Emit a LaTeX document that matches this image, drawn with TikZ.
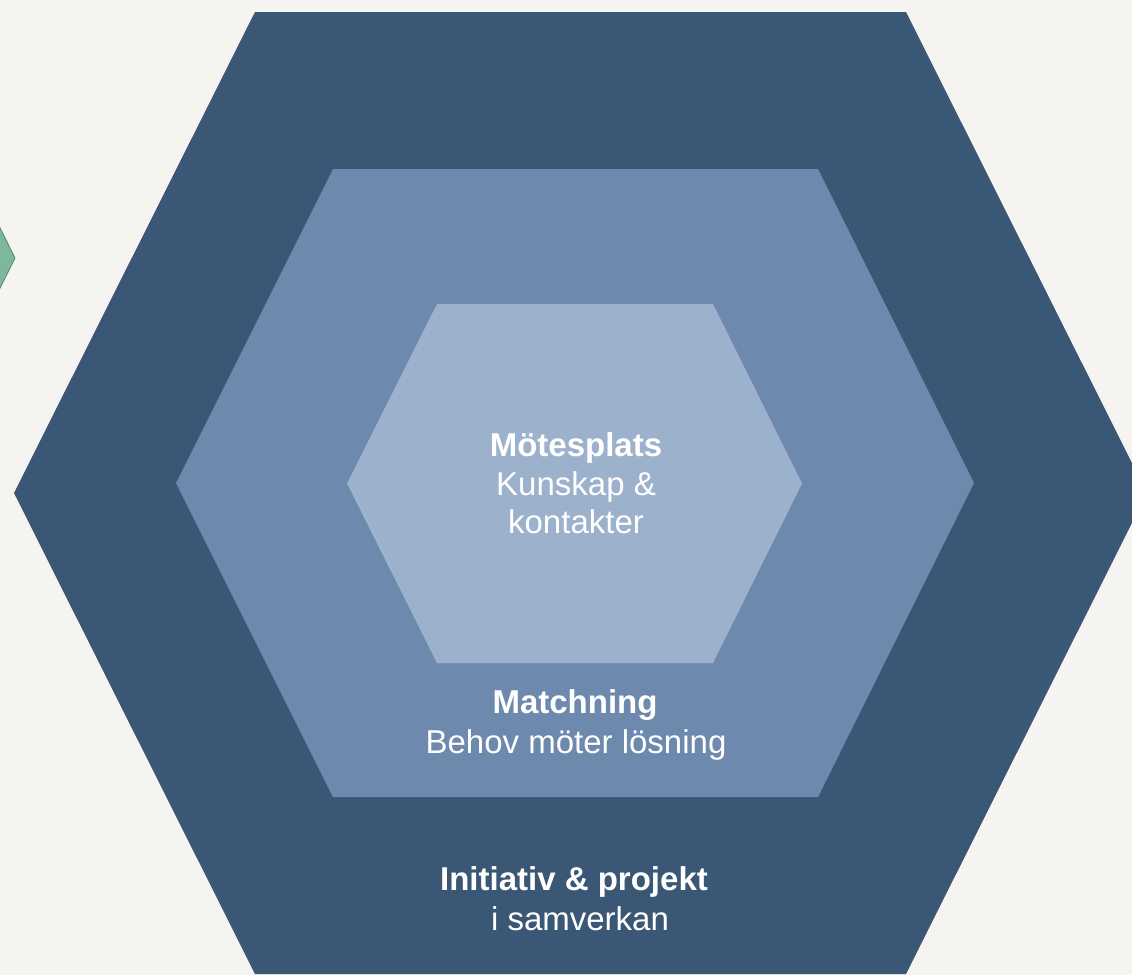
\documentclass[tikz,border=0pt]{standalone}
\usepackage{fontspec}
\setmainfont{Liberation Sans}
\definecolor{bgc}{HTML}{F5F4F0}
\definecolor{outerc}{HTML}{3A5775}
\definecolor{midc}{HTML}{6D89AE}
\definecolor{innerc}{HTML}{9CB1CB}
\definecolor{greenf}{HTML}{7DB89A}
\definecolor{greend}{HTML}{4E8A68}
\tikzset{
  lbl/.style={text=white, anchor=base, inner sep=0pt, font=\fontsize{33}{40}\selectfont},
  lblb/.style={lbl, font=\fontsize{33}{40}\selectfont\bfseries},
}
\begin{document}
\begin{tikzpicture}[x=1pt,y=-1pt]
\useasboundingbox (0,0) rectangle (1132,975);
\clip (0,0) rectangle (1132,975);
\fill[bgc] (0,0) rectangle (1132,975);
% green shape at the left edge
\filldraw[fill=greenf, draw=greend, line width=0.8pt]
  (-300,147) -- (-40,147) -- (15,258) -- (-40,369) -- (-300,369) -- cycle;
% outer hexagon
\fill[outerc] (255,12) -- (906,12) -- (1147,493) -- (906,974) -- (255,974) -- (14,493) -- cycle;
% middle hexagon
\fill[midc] (333,169) -- (818,169) -- (974,483) -- (818,797) -- (333,797) -- (176,483) -- cycle;
% inner hexagon
\fill[innerc] (437,304) -- (713,304) -- (802,483.5) -- (713,663) -- (437,663) -- (347,483.5) -- cycle;
% texts
\node[lblb] (m1) at (576,456) {Mötesplats};
\node[lbl]  (m2) at (576,495) {Kunskap \&};
\node[lbl]  (m3) at (576,533) {kontakter};
\node[lblb] (t1) at (575,713) {Matchning};
\node[lbl]  (t2) at (576,753) {Behov möter lösning};
\node[lblb] (i1) at (574,890) {Initiativ \& projekt};
\node[lbl]  (i2) at (580,930) {i samverkan};
\end{tikzpicture}
\end{document}
